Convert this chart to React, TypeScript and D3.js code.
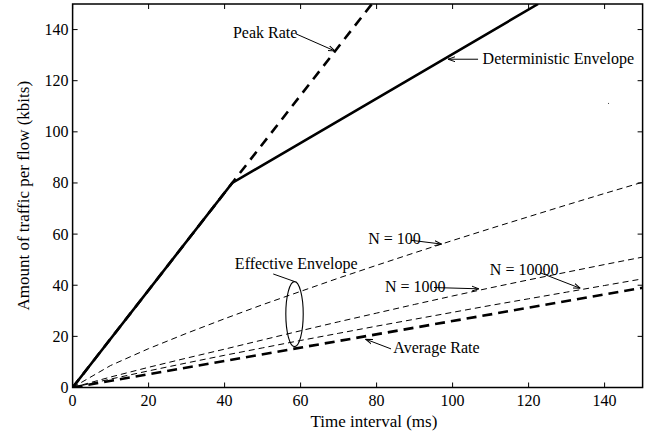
import React from 'react';
import * as d3 from 'd3';

const width = 657;
const height = 438;
const margin = { top: 4, right: 14.4, bottom: 50.5, left: 72.6 };

// sampled time interval (ms)
const timeMs = [0, 10, 20, 30, 40, 50, 60, 70, 80, 90, 100, 110, 120, 130, 140, 150];
// effective envelopes (kbits)
const envN100 = [0, 8.6, 15.2, 21.2, 26.9, 32.4, 37.6, 42.8, 47.8, 52.7, 57.5, 62.2, 66.8, 71.4, 75.9, 80.3];
const envN1000 = [0, 4.1, 7.9, 11.5, 15.0, 18.6, 22.2, 25.7, 29.1, 32.5, 35.8, 39.0, 42.1, 45.1, 48.1, 51.0];
const envN10000 = [0, 3.3, 6.5, 9.6, 12.6, 15.5, 18.4, 21.2, 24.0, 26.7, 29.4, 32.1, 34.7, 37.3, 39.9, 42.5];
// deterministic envelope, peak rate, average rate
const detX = [0, 42, 122.5];
const detY = [0, 80, 150];
const peakX = [0, 78.75];
const peakY = [0, 150];
const avgX = [0, 150];
const avgY = [0, 39];

const xTicks = [0, 20, 40, 60, 80, 100, 120, 140];
const yTicks = [0, 20, 40, 60, 80, 100, 120, 140];

// annotations: [textX, textY, fromX, fromY, toX, toY] in data units
const labels = [
  { text: 'Peak Rate', at: [42.2, 136.7], from: [58.8, 138.3], to: [69.05, 131.6] },
  { text: 'Deterministic Envelope', at: [107.9, 126.5], from: [106.7, 128.4], to: [98.8, 128.4] },
  { text: 'N = 100', at: [77.8, 56.1], from: [89.0, 57.6], to: [97.1, 56.1] },
  { text: 'N = 1000', at: [82.2, 37.3], from: [95.1, 39.1], to: [106.9, 38.6] },
  { text: 'N = 10000', at: [109.8, 44.0], from: [123.0, 44.9], to: [133.6, 38.8] },
  { text: 'Average Rate', at: [84.4, 13.5], from: [83.8, 15.1], to: [77.1, 18.9] },
];
const effLabel = { text: 'Effective Envelope', at: [42.7, 46.3], from: [52.8, 44.4], to: [58.5, 41.4] };
const ellipse = { cx: 58.4, cy: 28.7, rx: 2.29, ry: 12.7 };

const font = 'Liberation Serif, Times New Roman, serif';

export default function App() {
  const x = d3.scaleLinear().domain([0, 150]).range([margin.left, width - margin.right]);
  const y = d3.scaleLinear().domain([0, 150]).range([height - margin.bottom, margin.top]);
  const line = d3.line<[number, number]>().x((d) => x(d[0])).y((d) => y(d[1]));
  const zip = (a: number[], b: number[]) => a.map((v, i) => [v, b[i]] as [number, number]);

  const x0 = x(0), x1 = x(150), y0 = y(0), y1 = y(150);
  const tick = 5;

  return (
    <svg width={width} height={height} style={{ position: 'absolute', left: 0, top: 0, background: '#fff' }}>
      <defs>
        <clipPath id="plot">
          <rect x={x0} y={y1} width={x1 - x0} height={y0 - y1} />
        </clipPath>
        <marker id="arr" viewBox="0 0 10 10" refX="10" refY="5" markerWidth="7" markerHeight="7" orient="auto" markerUnits="userSpaceOnUse">
          <path d="M0,1.5 L10,5 L0,8.5" fill="none" stroke="#000" strokeWidth="1.4" />
        </marker>
      </defs>

      <g clipPath="url(#plot)" fill="none" stroke="#000">
        <path d={line(zip(timeMs, envN100)) || ''} strokeWidth={1} strokeDasharray="6,4" />
        <path d={line(zip(timeMs, envN1000)) || ''} strokeWidth={1} strokeDasharray="6,4" />
        <path d={line(zip(timeMs, envN10000)) || ''} strokeWidth={1} strokeDasharray="6,4" />
        <path d={line(zip(avgX, avgY)) || ''} strokeWidth={2.6} strokeDasharray="10,6" />
        <path d={line(zip(peakX, peakY)) || ''} strokeWidth={2.6} strokeDasharray="10,7" />
        <path d={line(zip(detX, detY)) || ''} strokeWidth={2.6} />
      </g>

      {/* frame and ticks */}
      <rect x={x0} y={y1} width={x1 - x0} height={y0 - y1} fill="none" stroke="#000" strokeWidth={1.5} />
      {xTicks.map((t) => (
        <g key={'x' + t}>
          <line x1={x(t)} x2={x(t)} y1={y0} y2={y0 - tick} stroke="#000" />
          <line x1={x(t)} x2={x(t)} y1={y1} y2={y1 + tick} stroke="#000" />
          <text x={x(t)} y={y0 + 18} textAnchor="middle" fontFamily={font} fontSize={16}>{t}</text>
        </g>
      ))}
      {yTicks.map((t) => (
        <g key={'y' + t}>
          <line x1={x0} x2={x0 + tick} y1={y(t)} y2={y(t)} stroke="#000" />
          <line x1={x1} x2={x1 - tick} y1={y(t)} y2={y(t)} stroke="#000" />
          <text x={x0 - 4} y={y(t) + 5.5} textAnchor="end" fontFamily={font} fontSize={16}>{t}</text>
        </g>
      ))}

      <text x={x(79.3)} y={427} textAnchor="middle" fontFamily={font} fontSize={17}>Time interval (ms)</text>
      <text transform={`translate(29,${(y0 + y1) / 2}) rotate(-90)`} textAnchor="middle" fontFamily={font} fontSize={17}>
        Amount of traffic per flow (kbits)
      </text>

      {/* annotations */}
      {labels.map((l) => (
        <g key={l.text}>
          <text x={x(l.at[0])} y={y(l.at[1])} fontFamily={font} fontSize={16}>{l.text}</text>
          <line x1={x(l.from[0])} y1={y(l.from[1])} x2={x(l.to[0])} y2={y(l.to[1])} stroke="#000" strokeWidth={1} markerEnd="url(#arr)" />
        </g>
      ))}
      <text x={x(effLabel.at[0])} y={y(effLabel.at[1])} fontFamily={font} fontSize={16}>{effLabel.text}</text>
      <line x1={x(effLabel.from[0])} y1={y(effLabel.from[1])} x2={x(effLabel.to[0])} y2={y(effLabel.to[1])} stroke="#000" strokeWidth={1} />
      <ellipse cx={x(ellipse.cx)} cy={y(ellipse.cy)} rx={x(ellipse.rx) - x(0)} ry={y(0) - y(ellipse.ry)} fill="none" stroke="#000" strokeWidth={1.1} />
      <rect x={x(140.9)} y={y(111.3)} width={1} height={1} fill="#444" />
    </svg>
  );
}
